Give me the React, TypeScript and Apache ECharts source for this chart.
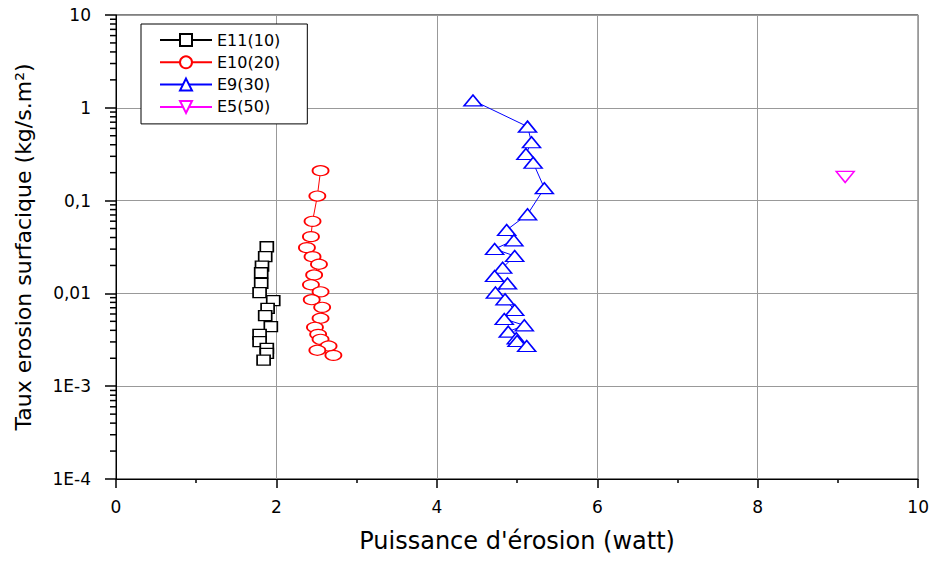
import React, { useEffect, useRef } from "react";
import * as echarts from "echarts";

const seriesNames = ["E11(10)", "E10(20)", "E9(30)", "E5(50)"];

const e11X = [1.88, 1.86, 1.82, 1.81, 1.81, 1.79, 1.96, 1.89, 1.86, 1.93, 1.79, 1.79, 1.88, 1.88, 1.84];
const e11Y = [0.0318, 0.0249, 0.0197, 0.0167, 0.0128, 0.0102, 0.00834, 0.0069, 0.00575, 0.00438, 0.00362, 0.00302, 0.00256, 0.00226, 0.00191];

const e10X = [2.55, 2.51, 2.45, 2.43, 2.38, 2.45, 2.53, 2.47, 2.43, 2.55, 2.44, 2.57, 2.55, 2.48, 2.52, 2.55, 2.65, 2.51, 2.71];
const e10Y = [0.21, 0.112, 0.0598, 0.0409, 0.0311, 0.0249, 0.0206, 0.0158, 0.0124, 0.0104, 0.00855, 0.00708, 0.0054, 0.00431, 0.00362, 0.0032, 0.00271, 0.00244, 0.00215];

const e9X = [4.45, 5.13, 5.18, 5.11, 5.2, 5.34, 5.13, 4.87, 4.96, 4.72, 4.97, 4.82, 4.72, 4.88, 4.73, 4.85, 4.97, 4.84, 5.09, 4.89, 4.99, 5.0, 5.12];
const e9Y = [1.2, 0.627, 0.425, 0.318, 0.256, 0.136, 0.0711, 0.0482, 0.0373, 0.0301, 0.0253, 0.0189, 0.0154, 0.0128, 0.0102, 0.00863, 0.00662, 0.0053, 0.00453, 0.00387, 0.00328, 0.00307, 0.00271];

const e5X = [9.09];
const e5Y = [0.18];

const yTickLabels = ["1E-4", "1E-3", "0,01", "0,1", "1", "10"];
const yExpMin = -4;
const yExpMax = 1;

const xTitle = "Puissance d'érosion (watt)";
const yTitle = "Taux erosion surfacique (kg/s.m²)";

const FONT = "DejaVu Sans, Liberation Sans, sans-serif";

function pairs(xs: number[], ys: number[]) {
  return xs.map((x, i) => [x, ys[i]]);
}

function minorTickValues() {
  const out: number[][] = [];
  for (let e = yExpMin; e < yExpMax; e++) {
    for (let m = 2; m <= 9; m++) out.push([0, m * Math.pow(10, e)]);
  }
  return out;
}

export default function App() {
  const ref = useRef<HTMLDivElement>(null);
  useEffect(() => {
    if (!ref.current) return;
    const chart = echarts.init(ref.current, undefined, { renderer: "svg" });
    const mk = (name: string, data: number[][], color: string, symbol: string, size: number[], rotate = 0) => ({
      name,
      type: "line",
      data,
      symbol,
      symbolSize: size,
      symbolRotate: rotate,
      showSymbol: true,
      lineStyle: { color, width: 1 },
      itemStyle: { color: "#fff", borderColor: color, borderWidth: 1.5 },
      emphasis: { disabled: true },
      z: 3,
    });
    chart.setOption({
      animation: false,
      backgroundColor: "#fff",
      grid: {
        left: 116,
        right: 13,
        top: 15,
        bottom: 82,
        show: true,
        borderColor: "#000",
        borderWidth: 1,
        backgroundColor: "transparent",
      },
      legend: {
        data: seriesNames,
        orient: "vertical",
        left: 141,
        top: 24,
        itemWidth: 52,
        itemHeight: 15,
        itemGap: 6.3,
        padding: [8, 27, 9, 18],
        borderColor: "#000",
        borderWidth: 1,
        backgroundColor: "#fff",
        textStyle: { fontFamily: FONT, fontSize: 16, lineHeight: 15, color: "#000" },
      },
      xAxis: {
        type: "value",
        min: 0,
        max: 10,
        interval: 2,
        name: xTitle,
        nameLocation: "middle",
        nameGap: 50,
        nameTextStyle: { fontFamily: FONT, fontSize: 24, color: "#000" },
        axisLine: { show: true, lineStyle: { color: "#000", width: 1 } },
        axisTick: { show: true, length: 9, inside: false, lineStyle: { color: "#000", width: 1.5 } },
        minorTick: { show: true, splitNumber: 2, length: 4, lineStyle: { color: "#000", width: 1.5 } },
        axisLabel: { fontFamily: FONT, fontSize: 17, color: "#000", margin: 19 },
        splitLine: { show: true, lineStyle: { color: "#999", width: 1 } },
      },
      yAxis: {
        type: "log",
        logBase: 10,
        min: Math.pow(10, yExpMin),
        max: Math.pow(10, yExpMax),
        name: yTitle,
        nameLocation: "middle",
        nameGap: 82,
        nameTextStyle: { fontFamily: FONT, fontSize: 22, color: "#000" },
        axisLine: { show: true, lineStyle: { color: "#000", width: 1 } },
        axisTick: { show: true, length: 11, inside: false, lineStyle: { color: "#000", width: 1.5 } },
        axisLabel: {
          fontFamily: FONT,
          fontSize: 17,
          color: "#000",
          margin: 25,
          formatter: (v: number) => {
            const e = Math.round(Math.log10(v));
            return yTickLabels[e - yExpMin] ?? "";
          },
        },
        splitLine: { show: true, lineStyle: { color: "#999", width: 1 } },
      },
      series: [
        mk(seriesNames[0], pairs(e11X, e11Y), "#000000", "rect", [13, 10]),
        mk(seriesNames[1], pairs(e10X, e10Y), "#ff0000", "circle", [16, 10]),
        mk(seriesNames[2], pairs(e9X, e9Y), "#0000ff", "triangle", [18, 11]),
        mk(seriesNames[3], pairs(e5X, e5Y), "#ff00ff", "triangle", [18, 11], 180),
        {
          name: "minorTicks",
          type: "custom",
          silent: true,
          clip: false,
          data: minorTickValues(),
          renderItem: (_p: any, api: any) => {
            const pt = api.coord([api.value(0), api.value(1)]);
            return {
              type: "line",
              shape: { x1: pt[0] - 6, y1: pt[1], x2: pt[0], y2: pt[1] },
              style: { stroke: "#000", lineWidth: 1.5 },
            };
          },
          z: 1,
        },
      ],
    });
    return () => chart.dispose();
  }, []);
  return (
    <div
      ref={ref}
      style={{ position: "fixed", left: 0, top: 0, width: 932, height: 561, background: "#fff" }}
    />
  );
}
